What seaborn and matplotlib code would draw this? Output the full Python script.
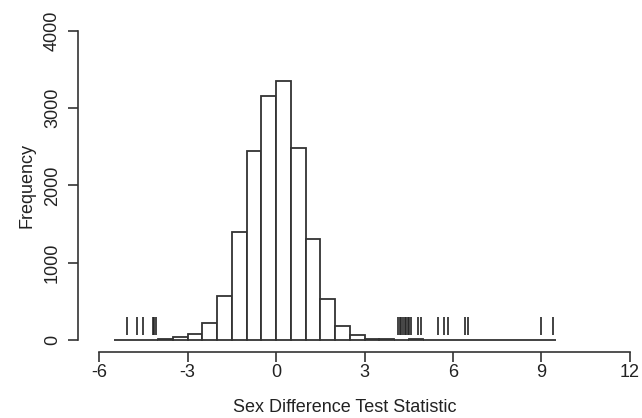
import matplotlib
matplotlib.use("Agg")
import matplotlib.pyplot as plt
import seaborn as sns
import numpy as np
import pandas as pd

# Histogram bins (width 0.5) from -5.5 to 9.5 and counts
bin_edges = [-5.5, -5.0, -4.5, -4.0, -3.5, -3.0, -2.5, -2.0, -1.5, -1.0, -0.5,
             0.0, 0.5, 1.0, 1.5, 2.0, 2.5, 3.0, 3.5, 4.0, 4.5, 5.0, 5.5, 6.0,
             6.5, 7.0, 7.5, 8.0, 8.5, 9.0, 9.5]
counts = [0, 0, 0, 8, 34, 78, 224, 570, 1393, 2447, 3159,
          3348, 2485, 1311, 535, 177, 65, 12, 8, 0, 8, 0, 0, 0,
          0, 0, 0, 0, 0, 0]
# Rug marks (individual test statistics)
rug_values = [-5.06, -4.72, -4.50, -4.16, -4.12, -4.07,
              4.15, 4.20, 4.25, 4.32, 4.36, 4.42, 4.47, 4.52, 4.58,
              4.82, 4.92, 5.50, 5.71, 5.82, 6.41, 6.50, 8.97, 9.39]
x_ticks = [-6, -3, 0, 3, 6, 9, 12]
y_ticks = [0, 1000, 2000, 3000, 4000]

centers = [(a + b) / 2 for a, b in zip(bin_edges[:-1], bin_edges[1:])]
df = pd.DataFrame({"stat": centers, "n": counts})

sns.set_theme(style="white")
plt.rcParams['font.family'] = ['Liberation Sans', 'DejaVu Sans']

fig = plt.figure(figsize=(6.42, 4.18), dpi=100)
W, H = 642, 418
left_px, right_px, top_px, bot_px = 77.8, 651.2, 18.6, 352.4
ax = fig.add_axes([left_px / W, 1 - bot_px / H, (right_px - left_px) / W,
                   (bot_px - top_px) / H])

sns.histplot(data=df, x="stat", weights="n", bins=bin_edges, ax=ax,
             color="white", edgecolor="#333333", linewidth=1.3, alpha=1)

ax.vlines(rug_values, 60, 300, colors="#222222", linewidth=1.2)

ax.set_xlim(-6.72, 12.72)
ax.set_ylim(-160, 4160)

for s in ["top", "right"]:
    ax.spines[s].set_visible(False)
ax.spines["left"].set_bounds(0, 4000)
ax.spines["bottom"].set_bounds(-6, 12)
for s in ["left", "bottom"]:
    ax.spines[s].set_color("#333333")
    ax.spines[s].set_linewidth(1.2)

ax.set_xticks(x_ticks)
ax.set_xticklabels([str(t) for t in x_ticks])
ax.set_yticks(y_ticks)
ax.set_yticklabels([str(t) for t in y_ticks], rotation=90, va="center")
ax.tick_params(axis="both", direction="out", length=7.2, width=1.2,
               color="#333333", labelsize=13, labelcolor="#222222",
               bottom=True, left=True)
ax.tick_params(axis="x", pad=1.5)
ax.tick_params(axis="y", pad=5)

ax.set_xlabel("Sex Difference Test Statistic", fontsize=13, color="#222222")
ax.xaxis.set_label_coords((345 - left_px) / (right_px - left_px),
                          (bot_px - 399) / (bot_px - top_px))
ax.set_ylabel("Frequency", fontsize=13, color="#222222", labelpad=6)
ax.grid(False)

fig.savefig("out.png", dpi=100, facecolor="white")
